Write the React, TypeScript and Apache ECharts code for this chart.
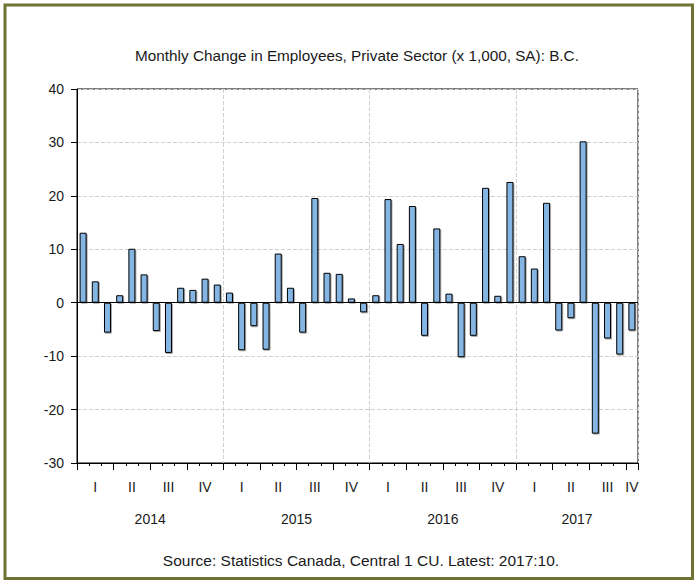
import React, { useEffect, useRef } from "react";
import * as echarts from "echarts";

const years = ["2014", "2015", "2016", "2017"];
const months: string[] = [];
for (const y of years) {
  for (let m = 1; m <= 12; m++) {
    if (y === "2017" && m > 10) break;
    months.push(`${y}-${m < 10 ? "0" + m : m}`);
  }
}
const values2014 = [13.1, 4.0, -5.6, 1.4, 10.1, 5.3, -5.3, -9.4, 2.8, 2.4, 4.5, 3.4];
const values2015 = [1.9, -8.9, -4.4, -8.8, 9.2, 2.8, -5.6, 19.6, 5.6, 5.4, 0.8, -1.8];
const values2016 = [1.4, 19.4, 11.0, 18.1, -6.2, 13.9, 1.7, -10.2, -6.2, 21.5, 1.3, 22.6];
const values2017 = [8.7, 6.4, 18.7, -5.2, -2.9, 30.2, -24.5, -6.7, -9.7, -5.2];
const values = [...values2014, ...values2015, ...values2016, ...values2017];
const quarterLabels = ["I", "II", "III", "IV"];
const yTicks = { min: -30, max: 40, interval: 10 };
const titleText = "Monthly Change in Employees, Private Sector (x 1,000, SA): B.C.";
const sourceText = "Source: Statistics Canada, Central 1 CU. Latest: 2017:10.";

const FONT = "Liberation Sans, Arial, sans-serif";
const TXT = "#1a1a1a";

export default function App() {
  const ref = useRef<HTMLDivElement>(null);
  useEffect(() => {
    if (!ref.current) return;
    const chart = echarts.init(ref.current, undefined, { renderer: "svg" });
    const gridLeft = 77, gridRight = 56, gridTop = 89, gridBottom = 118;
    chart.setOption({
      animation: false,
      backgroundColor: "#ffffff",
      grid: {
        left: gridLeft, right: gridRight, top: gridTop, bottom: gridBottom,
        show: true, borderColor: "#000", borderWidth: 1, backgroundColor: "#fff",
      },
      xAxis: [
        {
          type: "category", data: months, position: "bottom",
          axisLine: { show: true, onZero: false, lineStyle: { color: "#000", width: 1 } },
          axisTick: { show: true, interval: 0, length: 3, lineStyle: { color: "#000" } },
          axisLabel: { show: false },
          splitLine: {
            show: true,
            interval: (i: number) => i > 0 && i % 12 === 0,
            lineStyle: { color: "#d0d0d0", type: "dashed" },
          },
        },
        {
          type: "category", data: months, position: "bottom",
          axisLine: { show: false, onZero: false },
          axisTick: { show: true, interval: (i: number) => i % 3 === 0, length: 7, lineStyle: { color: "#000" } },
          axisLabel: {
            show: true,
            interval: (i: number) => i % 3 === 1 || i === months.length - 1,
            formatter: (v: string) => quarterLabels[Math.ceil(parseInt(v.slice(5), 10) / 3) - 1],
            fontFamily: FONT, fontSize: 14, color: TXT, margin: 17,
          },
          splitLine: { show: false },
        },
      ],
      yAxis: {
        type: "value", min: yTicks.min, max: yTicks.max, interval: yTicks.interval,
        axisLine: { show: true, lineStyle: { color: "#000" } },
        axisTick: { show: true, length: 6, lineStyle: { color: "#000" } },
        axisLabel: { fontFamily: FONT, fontSize: 14, color: TXT, margin: 13 },
        splitLine: { show: true, lineStyle: { color: "#d0d0d0", type: "dashed" } },
      },
      series: [
        {
          type: "bar", data: values, xAxisIndex: 0, barWidth: 7,
          itemStyle: {
            color: "#84b5e3", borderColor: "#000", borderWidth: 1,
            shadowColor: "rgba(0,0,0,0.35)", shadowOffsetX: 1, shadowOffsetY: 1, shadowBlur: 0,
          },
          markLine: {
            silent: true, symbol: "none", label: { show: false },
            lineStyle: { color: "#000", type: "solid", width: 1 },
            data: [{ yAxis: 0 }],
          },
        },
      ],
    });

    const graphics: any[] = [];
    years.forEach((y) => {
      const idx = months.map((m, i) => (m.startsWith(y) ? i : -1)).filter((i) => i >= 0);
      const first = chart.convertToPixel({ xAxisIndex: 0 }, months[idx[0]]) as number;
      const last = chart.convertToPixel({ xAxisIndex: 0 }, months[idx[idx.length - 1]]) as number;
      graphics.push({
        type: "text", x: (first + last) / 2, y: 519,
        style: { text: y, fontFamily: FONT, fontSize: 14, fill: TXT, textAlign: "center", textVerticalAlign: "middle" },
      });
    });
    graphics.push({
      type: "text", x: 357, y: 55,
      style: { text: titleText, fontFamily: FONT, fontSize: 15.3, fill: TXT, textAlign: "center", textVerticalAlign: "middle" },
    });
    graphics.push({
      type: "text", x: 361, y: 560,
      style: { text: sourceText, fontFamily: FONT, fontSize: 15.5, fill: TXT, textAlign: "center", textVerticalAlign: "middle" },
    });
    graphics.push({
      type: "rect", shape: { x: 5, y: 5, width: 687.5, height: 573.5 },
      style: { fill: "none", stroke: "#6e7232", lineWidth: 3 }, z: 100,
    });
    chart.setOption({ graphic: graphics });
    return () => chart.dispose();
  }, []);
  return (
    <div
      ref={ref}
      style={{ position: "absolute", left: 0, top: 0, width: 694, height: 581 }}
    />
  );
}
